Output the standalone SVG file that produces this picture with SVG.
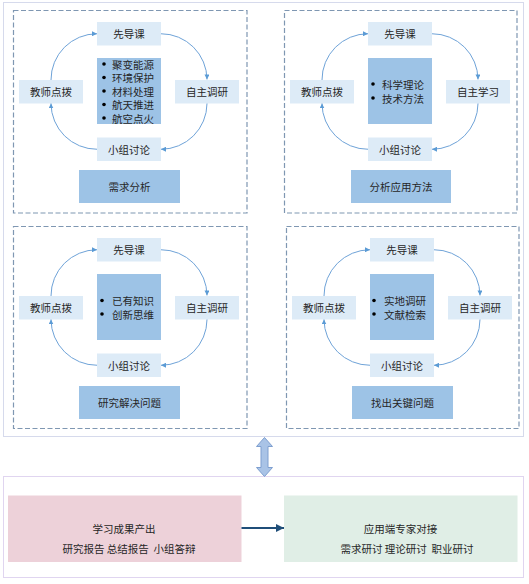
<svg xmlns="http://www.w3.org/2000/svg" width="529" height="584" viewBox="0 0 529 584">
<defs>
<style>
.t{font-family:"Noto Sans CJK SC","Noto Sans",sans-serif;font-size:10.5px;fill:#262626;dominant-baseline:central;text-anchor:middle;white-space:pre}
.tl{font-family:"Noto Sans CJK SC","Noto Sans",sans-serif;font-size:10.5px;fill:#262626;dominant-baseline:central;text-anchor:start}
.nd{fill:#DDEBF7}
.dk{fill:#9DC3E6}
.dash{fill:none;stroke:#7F97B2;stroke-width:1.2;stroke-dasharray:5 2.5}
.arc{fill:none;stroke:#6FA3D8;stroke-width:1;marker-end:url(#ah)}
.bul{fill:#000}
</style>
<marker id="ah" viewBox="0 0 6 6" refX="6" refY="3" markerWidth="5" markerHeight="5" markerUnits="userSpaceOnUse" orient="auto"><path d="M0,0 L6,3 L0,6 z" fill="#5B9BD5"/></marker>
<marker id="ah2" viewBox="0 0 8 8" refX="8" refY="4" markerWidth="8" markerHeight="8" markerUnits="userSpaceOnUse" orient="auto"><path d="M0,0 L8,4 L0,8 z" fill="#1F4E79"/></marker>
</defs>
<rect width="529" height="584" fill="#fff"/>
<rect id="frame-top" x="3.5" y="2.5" width="520" height="434" fill="#fff" stroke="#D6DAEC" stroke-width="1"/>
<rect id="frame-bottom" x="3.5" y="476.5" width="520" height="101" fill="#fff" stroke="#E0D5F0" stroke-width="1"/>

<!-- Panel 1 -->
<g id="panel1">
<rect class="dash" x="13.5" y="10.5" width="233.5" height="202.5"/>
<g id="p1-xdk"><rect class="nd" x="97" y="22" width="64" height="23.5"/><text class="t" x="129" y="33.75">先导课</text></g>
<g id="p1-jsdb"><rect class="nd" x="19" y="80" width="64" height="23.5"/><text class="t" x="51" y="91.75">教师点拨</text></g>
<g id="p1-zzdy"><rect class="nd" x="175" y="80" width="64" height="23.5"/><text class="t" x="207" y="91.75">自主调研</text></g>
<g id="p1-xztl"><rect class="nd" x="97" y="137.5" width="64" height="23.5"/><text class="t" x="129" y="149.25">小组讨论</text></g>
<g id="p1-list"><rect class="dk" x="97" y="58" width="64" height="66"/>
<circle class="bul" cx="104" cy="64" r="1.8"/><text class="tl" x="112" y="64">聚变能源</text>
<circle class="bul" cx="104" cy="77.5" r="1.8"/><text class="tl" x="112" y="77.5">环境保护</text>
<circle class="bul" cx="104" cy="91" r="1.8"/><text class="tl" x="112" y="91">材料处理</text>
<circle class="bul" cx="104" cy="104.5" r="1.8"/><text class="tl" x="112" y="104.5">航天推进</text>
<circle class="bul" cx="104" cy="118" r="1.8"/><text class="tl" x="112" y="118">航空点火</text>
</g>
<g id="p1-title"><rect class="dk" x="79" y="170" width="101" height="33"/><text class="t" x="129.5" y="186.5">需求分析</text></g>
</g>

<!-- Panel 2 -->
<g id="panel2" transform="translate(271,0)">
<rect class="dash" x="13.5" y="10.5" width="232.5" height="202.5"/>
<g id="p2-xdk"><rect class="nd" x="97" y="22" width="64" height="23.5"/><text class="t" x="129" y="33.75">先导课</text></g>
<g id="p2-jsdb"><rect class="nd" x="19" y="80" width="64" height="23.5"/><text class="t" x="51" y="91.75">教师点拨</text></g>
<g id="p2-zzxx"><rect class="nd" x="175" y="80" width="64" height="23.5"/><text class="t" x="207" y="91.75">自主学习</text></g>
<g id="p2-xztl"><rect class="nd" x="97" y="137.5" width="64" height="23.5"/><text class="t" x="129" y="149.25">小组讨论</text></g>
<g id="p2-list"><rect class="dk" x="97" y="58" width="64" height="66"/>
<circle class="bul" cx="102" cy="84" r="1.8"/><text class="tl" x="111" y="84">科学理论</text>
<circle class="bul" cx="102" cy="98" r="1.8"/><text class="tl" x="111" y="98">技术方法</text>
</g>
<g id="p2-title"><rect class="dk" x="80" y="170" width="100" height="33"/><text class="t" x="130" y="186.5">分析应用方法</text></g>
</g>

<!-- Panel 3 -->
<g id="panel3" transform="translate(0,216)">
<rect class="dash" x="13.5" y="10.5" width="233.5" height="202"/>
<g id="p3-xdk"><rect class="nd" x="97" y="22" width="64" height="23.5"/><text class="t" x="129" y="33.75">先导课</text></g>
<g id="p3-jsdb"><rect class="nd" x="19" y="80" width="64" height="23.5"/><text class="t" x="51" y="91.75">教师点拨</text></g>
<g id="p3-zzdy"><rect class="nd" x="175" y="80" width="64" height="23.5"/><text class="t" x="207" y="91.75">自主调研</text></g>
<g id="p3-xztl"><rect class="nd" x="97" y="137.5" width="64" height="23.5"/><text class="t" x="129" y="149.25">小组讨论</text></g>
<g id="p3-list"><rect class="dk" x="97" y="58" width="64" height="66"/>
<circle class="bul" cx="102" cy="84.5" r="1.8"/><text class="tl" x="112" y="84.5">已有知识</text>
<circle class="bul" cx="102" cy="98" r="1.8"/><text class="tl" x="112" y="98">创新思维</text>
</g>
<g id="p3-title"><rect class="dk" x="79" y="170" width="101" height="33"/><text class="t" x="129.5" y="186.5">研究解决问题</text></g>
</g>

<!-- Panel 4 -->
<g id="panel4" transform="translate(273,216)">
<rect class="dash" x="13.5" y="10.5" width="232.5" height="202"/>
<g id="p4-xdk"><rect class="nd" x="97" y="22" width="64" height="23.5"/><text class="t" x="129" y="33.75">先导课</text></g>
<g id="p4-jsdb"><rect class="nd" x="19" y="80" width="64" height="23.5"/><text class="t" x="51" y="91.75">教师点拨</text></g>
<g id="p4-zzdy"><rect class="nd" x="175" y="80" width="64" height="23.5"/><text class="t" x="207" y="91.75">自主调研</text></g>
<g id="p4-xztl"><rect class="nd" x="97" y="137.5" width="64" height="23.5"/><text class="t" x="129" y="149.25">小组讨论</text></g>
<g id="p4-list"><rect class="dk" x="97" y="58" width="64" height="66"/>
<circle class="bul" cx="101" cy="84.5" r="1.8"/><text class="tl" x="111" y="84.5">实地调研</text>
<circle class="bul" cx="101" cy="98" r="1.8"/><text class="tl" x="111" y="98">文献检索</text>
</g>
<g id="p4-title"><rect class="dk" x="79" y="170" width="101" height="33"/><text class="t" x="129.5" y="186.5">找出关键问题</text></g>
</g>

<!-- Bottom nodes -->
<g id="outcome"><rect x="8" y="495.5" width="233.5" height="66.5" fill="#EDD1D9"/>
<text class="t" x="124" y="528.5">学习成果产出</text>
<text class="t" x="129" y="548">研究报告 总结报告  小组答辩</text></g>
<g id="expert"><rect x="284" y="495.5" width="233.5" height="66.5" fill="#E0EEE6"/>
<text class="t" x="400.5" y="528.5">应用端专家对接</text>
<text class="t" x="407" y="548">需求研讨 理论研讨  职业研讨</text></g>

<!-- Connectors -->
<g id="connectors">
<g transform="translate(0,0)">
<path class="arc" d="M161,33.75 A46,46 0 0 1 207,79.5"/>
<path class="arc" d="M207,103.5 A46,46 0 0 1 161,149.25"/>
<path class="arc" d="M97,149.25 A46,46 0 0 1 51,103.5"/>
<path class="arc" d="M51,80 A46,46 0 0 1 97,33.75"/>
</g>
<g transform="translate(271,0)">
<path class="arc" d="M161,33.75 A46,46 0 0 1 207,79.5"/>
<path class="arc" d="M207,103.5 A46,46 0 0 1 161,149.25"/>
<path class="arc" d="M97,149.25 A46,46 0 0 1 51,103.5"/>
<path class="arc" d="M51,80 A46,46 0 0 1 97,33.75"/>
</g>
<g transform="translate(0,216)">
<path class="arc" d="M161,33.75 A46,46 0 0 1 207,79.5"/>
<path class="arc" d="M207,103.5 A46,46 0 0 1 161,149.25"/>
<path class="arc" d="M97,149.25 A46,46 0 0 1 51,103.5"/>
<path class="arc" d="M51,80 A46,46 0 0 1 97,33.75"/>
</g>
<g transform="translate(273,216)">
<path class="arc" d="M161,33.75 A46,46 0 0 1 207,79.5"/>
<path class="arc" d="M207,103.5 A46,46 0 0 1 161,149.25"/>
<path class="arc" d="M97,149.25 A46,46 0 0 1 51,103.5"/>
<path class="arc" d="M51,80 A46,46 0 0 1 97,33.75"/>
</g>
<polygon id="double-arrow" points="264.5,437.5 272.5,446.5 268,446.5 268,467.5 272.5,467.5 264.5,476.5 256.5,467.5 261,467.5 261,446.5 256.5,446.5" fill="#A9C3E6" stroke="#7E9FD0" stroke-width="1"/>
<line x1="241.5" y1="528" x2="284" y2="528" stroke="#1F4E79" stroke-width="2" marker-end="url(#ah2)"/>
</g>
</svg>
